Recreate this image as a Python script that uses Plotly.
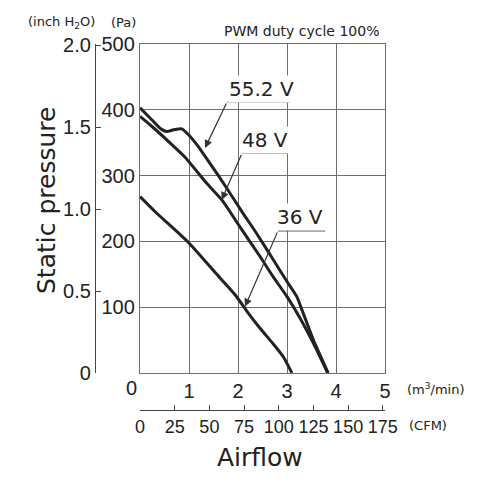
import plotly.graph_objects as go

# ---------------- data ----------------
flow_552 = [0, 0.2, 0.41, 0.54, 0.71, 0.85, 0.99, 1.16, 1.22, 1.6, 1.9, 2.1, 2.38, 2.72, 3.0, 3.2, 3.33, 3.54, 3.84]
pa_552 = [403, 388, 372, 367, 370, 371, 362, 347, 341, 300, 266, 243, 212, 172, 139, 116, 91, 50, 0]

flow_48 = [0, 0.24, 0.58, 0.92, 1.33, 1.67, 2.04, 2.45, 2.72, 3.0, 3.27, 3.54, 3.83]
pa_48 = [390, 375, 352, 328, 291, 263, 222, 177, 146, 116, 83, 45, 0]

flow_36 = [0, 0.31, 0.98, 1.53, 1.94, 2.24, 2.45, 2.72, 2.93, 3.1]
pa_36 = [268, 245, 199, 153, 119, 88, 68, 44, 24, 0]

x_ticks = [1, 2, 3, 4, 5]
pa_ticks = [100, 200, 300, 400, 500]
inch_ticks = [0, 0.5, 1.0, 1.5, 2.0]
inch_labels = ["0", "0.5", "1.0", "1.5", "2.0"]
cfm_ticks = [0, 25, 50, 75, 100, 125, 150, 175]

PA_PER_INCH = 249.0889
CFM_PER_M3 = 35.3147

# label annotations: (text, text x, text y, underline x0, x1, y, arrow tail x, y, arrow tip x, y)
labels = [
    ("55.2 V", 2.47, 431, 1.776, 3.061, 412, 1.776, 412, 1.327, 342),
    ("48 V", 2.56, 354, 2.082, 3.0, 334, 2.082, 334, 1.667, 263),
    ("36 V", 3.27, 237, 2.816, 3.776, 216, 2.816, 216, 2.143, 101),
]

W, H = 479, 486
L, R, T, B = 140, 385, 44, 373

NUM_FONT = "Liberation Sans, Arial, sans-serif"
TXT_FONT = "DejaVu Sans, Liberation Sans, sans-serif"
GRID = "#6e6e6e"
INK = "#222222"

fig = go.Figure()
for fx, py in [(flow_552, pa_552), (flow_48, pa_48), (flow_36, pa_36)]:
    fig.add_trace(go.Scatter(x=fx, y=py, mode="lines",
                             line=dict(color=INK, width=3, shape="spline", smoothing=0.6),
                             hoverinfo="skip", showlegend=False))
# carriers for the secondary axes
fig.add_trace(go.Scatter(x=[None], y=[None], xaxis="x2", yaxis="y", showlegend=False))
fig.add_trace(go.Scatter(x=[None], y=[None], xaxis="x", yaxis="y2", showlegend=False))

xdom = [L / W, R / W]
ydom = [1 - B / H, 1 - T / H]

fig.update_layout(
    width=W, height=H,
    margin=dict(l=0, r=0, t=0, b=0, autoexpand=False),
    paper_bgcolor="white", plot_bgcolor="white",
    showlegend=False,
    xaxis=dict(domain=xdom, range=[0, 5], tickvals=x_ticks, ticktext=[str(v) for v in x_ticks],
               showgrid=True, gridcolor=GRID, gridwidth=1.3, zeroline=False, automargin=False,
               showline=True, linecolor=GRID, linewidth=1.3, mirror=True, ticks="", tickangle=0,
               tickfont=dict(family=NUM_FONT, size=20, color=INK), anchor="y"),
    yaxis=dict(domain=ydom, range=[0, 500], tickvals=pa_ticks, ticktext=[str(v) for v in pa_ticks],
               showgrid=True, gridcolor=GRID, gridwidth=1.3, zeroline=False, automargin=False,
               showline=True, linecolor=GRID, linewidth=1.3, mirror=True, ticks="",
               tickfont=dict(family=NUM_FONT, size=20, color=INK), anchor="x"),
    yaxis2=dict(overlaying="y", anchor="free", position=95 / W, side="left", domain=ydom,
                range=[0, 500 / PA_PER_INCH], tickvals=inch_ticks, ticktext=inch_labels,
                showgrid=False, zeroline=False, showline=True, linecolor="#444", linewidth=1.2,
                ticks="inside", ticklen=5, tickwidth=1.2, tickcolor="#444", automargin=False,
                tickfont=dict(family=NUM_FONT, size=20, color=INK)),
    xaxis2=dict(overlaying="x", anchor="free", position=1 - 410 / H, side="bottom", domain=xdom,
                range=[0, 5 * CFM_PER_M3], tickvals=cfm_ticks, ticktext=[str(v) for v in cfm_ticks],
                showgrid=False, zeroline=False, showline=True, linecolor="#444", linewidth=1.2,
                ticks="inside", ticklen=5, tickwidth=1.2, tickcolor="#444", automargin=False,
                tickangle=0, tickfont=dict(family=NUM_FONT, size=18, color=INK)),
)

ann = []
shapes = []
for (txt, tx, ty, ux0, ux1, uy, ax, ay, hx, hy) in labels:
    ann.append(dict(x=tx, y=ty, xref="x", yref="y", text=txt, showarrow=False,
                    font=dict(family=TXT_FONT, size=20, color=INK), bgcolor="white",
                    xanchor="center", yanchor="middle", borderpad=1))
    shapes.append(dict(type="line", xref="x", yref="y", x0=ux0, x1=ux1, y0=uy, y1=uy,
                       line=dict(color="#555", width=1.2), layer="above"))
    ann.append(dict(x=hx, y=hy, ax=ax, ay=ay, xref="x", yref="y", axref="x", ayref="y",
                    text="", showarrow=True, arrowhead=2, arrowsize=1.3, arrowwidth=1.2,
                    arrowcolor="#333", standoff=0, startstandoff=0))

def P(px, py):
    return px / W, 1 - py / H

small = dict(family=TXT_FONT, size=13, color=INK)
for txt, px, py, f in [
    ("(inch H<sub>2</sub>O)", 61, 23, small),
    ("(Pa)", 123, 23, small),
    ("PWM duty cycle 100%", 301, 31, dict(family=TXT_FONT, size=14, color=INK)),
    ("(m<sup>3</sup>/min)", 436, 389, small),
    ("(CFM)", 428, 425, small),
    ("Airflow", 260, 457, dict(family=TXT_FONT, size=25, color=INK)),
]:
    x, y = P(px, py)
    ann.append(dict(x=x, y=y, xref="paper", yref="paper", text=txt, showarrow=False,
                    font=f, xanchor="center", yanchor="middle"))

x, y = P(46, 201)
ann.append(dict(x=x, y=y, xref="paper", yref="paper", text="Static pressure", showarrow=False,
                textangle=-90, font=dict(family=TXT_FONT, size=25, color=INK),
                xanchor="center", yanchor="middle"))
# shared corner zero
ann.append(dict(x=0, y=P(0, 388)[1], xref="x", yref="paper", text="0", showarrow=False,
                xshift=-9, font=dict(family=NUM_FONT, size=20, color=INK),
                xanchor="center", yanchor="middle"))

fig.update_layout(annotations=ann, shapes=shapes)
fig.write_html("out.html")
